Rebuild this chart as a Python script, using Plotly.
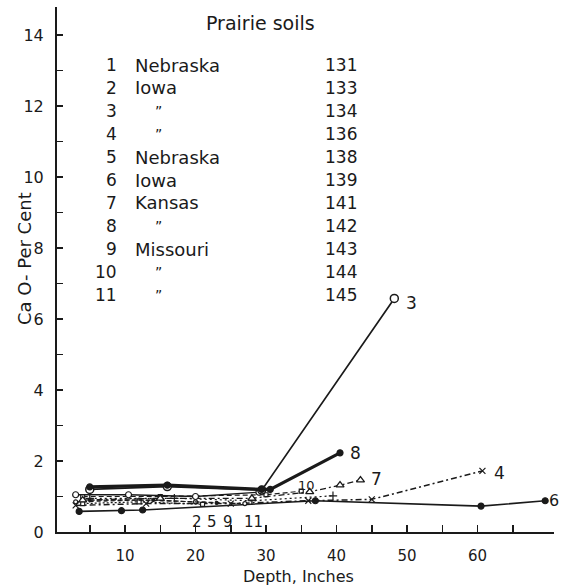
import plotly.graph_objects as go

# ---------------- data ----------------
legend_idx = ["1", "2", "3", "4", "5", "6", "7", "8", "9", "10", "11"]
legend_state = ["Nebraska", "Iowa", "\u201d", "\u201d", "Nebraska", "Iowa", "Kansas", "\u201d", "Missouri", "\u201d", "\u201d"]
legend_soil = ["131", "133", "134", "136", "138", "139", "141", "142", "143", "144", "145"]

s1_x = [3, 10.5, 20, 29];        s1_y = [1.05, 1.05, 1.0, 1.12]
s2_x = [3, 12, 20, 27];          s2_y = [0.85, 0.9, 0.85, 0.8]
s3_x = [5, 16, 29.4, 48.2];      s3_y = [1.2, 1.28, 1.18, 6.58]
s4_x = [3, 13, 25, 36, 45, 60.7]; s4_y = [0.75, 0.8, 0.8, 0.88, 0.92, 1.72]
s5_x = [4, 12, 21];              s5_y = [0.8, 0.85, 0.78]
s6_x = [3.5, 9.5, 12.5, 37, 60.5, 69.6]; s6_y = [0.58, 0.6, 0.62, 0.88, 0.73, 0.88]
s7_x = [4, 15, 28, 36.2, 40.5, 43.4]; s7_y = [0.9, 0.95, 0.95, 1.13, 1.32, 1.46]
s8_x = [5, 16, 29.4, 30.6, 40.5]; s8_y = [1.27, 1.32, 1.2, 1.2, 2.23]
s9_x = [5, 14, 23];              s9_y = [0.9, 0.9, 0.82]
s10_x = [4, 15, 30, 35];         s10_y = [1.0, 1.0, 1.05, 1.15]
s11_x = [5, 17, 28, 39.5];       s11_y = [0.95, 0.95, 0.88, 1.02]

curve_labels = ["3", "8", "7", "4", "6", "10"]
curve_label_x = [49.6, 41.6, 44.6, 62.0, 69.9, 34.3]
curve_label_y = [6.45, 2.22, 1.5, 1.65, 0.88, 1.3]

bottom_labels = ["2", "5", "9", "11"]
bottom_label_x = [20.2, 22.4, 24.6, 28.2]
bottom_label_y = [0.28, 0.28, 0.28, 0.28]

x_ticks = [5, 10, 15, 20, 25, 30, 35, 40, 45, 50, 55, 60, 65]
x_ticktext = ["", "10", "", "20", "", "30", "", "40", "", "50", "", "60", ""]
y_ticks = list(range(0, 15))
y_ticktext = [str(v) if v % 2 == 0 else "" for v in y_ticks]

# ---------------- layout geometry ----------------
W, H = 562, 588
L, R, T, B = 57, 8, 7, 56
PW, PH = W - L - R, H - T - B

def px(xp):
    return (xp - L) / PW

def py(yp):
    return (H - B - yp) / PH

FONT = "DejaVu Sans"
INK = "#1a1a1a"

fig = go.Figure()

def add(x, y, dash="solid", width=1.5, symbol="circle", msize=5, mcolor=INK, mline=1.2):
    fig.add_trace(go.Scatter(
        x=x, y=y, mode="lines+markers",
        line=dict(color=INK, width=width, dash=dash),
        marker=dict(symbol=symbol, size=msize, color=mcolor, line=dict(color=INK, width=mline)),
        cliponaxis=False, showlegend=False, hoverinfo="skip"))

add(s6_x, s6_y, "solid", 1.6, "circle", 6, INK)
add(s4_x, s4_y, "6px,3px,2px,3px", 1.5, "x-thin", 6, INK)
add(s2_x, s2_y, "4px,3px", 1.2, "circle", 4, "white")
add(s5_x, s5_y, "2px,2px", 1.2, "square", 4, "white")
add(s9_x, s9_y, "5px,2px", 1.2, "circle", 3, INK)
add(s11_x, s11_y, "2px,3px", 1.2, "cross-thin", 6, INK)
add(s10_x, s10_y, "5px,3px", 1.2, "square", 4, "white")
add(s7_x, s7_y, "6px,3px,2px,3px", 1.3, "triangle-up", 7, "white", 1.3)
add(s1_x, s1_y, "solid", 1.3, "circle", 6, "white")
add(s3_x, s3_y, "solid", 1.7, "circle", 8, "white", 1.5)
add(s8_x, s8_y, "solid", 3.2, "circle", 6, INK)

ann = []
for t, x, y in zip(curve_labels, curve_label_x, curve_label_y):
    ann.append(dict(x=x, y=y, xref="x", yref="y", text=t, showarrow=False,
                    xanchor="left", yanchor="middle",
                    font=dict(family=FONT, size=13 if t == "10" else (16 if t == "6" else 17), color=INK)))
for t, x, y in zip(bottom_labels, bottom_label_x, bottom_label_y):
    ann.append(dict(x=x, y=y, xref="x", yref="y", text=t, showarrow=False,
                    xanchor="center", yanchor="middle",
                    font=dict(family=FONT, size=15, color=INK)))

# legend table
row_y0, row_dy = 65, 23
for i, (a, b, c) in enumerate(zip(legend_idx, legend_state, legend_soil)):
    yy = py(row_y0 + i * row_dy)
    ann.append(dict(x=px(119), y=yy, xref="paper", yref="paper", text=a, showarrow=False,
                    xanchor="right", yanchor="middle", font=dict(family=FONT, size=17, color=INK)))
    if b == "\u201d":
        ann.append(dict(x=px(158), y=yy, xref="paper", yref="paper", text=b, showarrow=False,
                        xanchor="center", yanchor="middle", font=dict(family=FONT, size=14, color=INK)))
    else:
        ann.append(dict(x=px(133), y=yy, xref="paper", yref="paper", text=b, showarrow=False,
                        xanchor="left", yanchor="middle", font=dict(family=FONT, size=18, color=INK)))
    ann.append(dict(x=px(341), y=yy, xref="paper", yref="paper", text=c, showarrow=False,
                    xanchor="center", yanchor="middle", font=dict(family=FONT, size=17, color=INK)))

ann.append(dict(x=px(260), y=py(23), xref="paper", yref="paper", text="Prairie soils", showarrow=False,
                xanchor="center", yanchor="middle", font=dict(family=FONT, size=19, color=INK)))
ann.append(dict(x=px(298), y=py(576), xref="paper", yref="paper", text="Depth, Inches", showarrow=False,
                xanchor="center", yanchor="middle", font=dict(family=FONT, size=16, color=INK)))
ann.append(dict(x=px(24), y=py(259), xref="paper", yref="paper", text="Ca O- Per Cent", showarrow=False,
                textangle=-90, xanchor="center", yanchor="middle", font=dict(family=FONT, size=18, color=INK)))

x0 = (L - 54.5) / 7.05
x1 = (W - R - 54.5) / 7.05
y1 = PH / 35.5

fig.update_layout(
    width=W, height=H,
    margin=dict(l=L, r=R, t=T, b=B),
    paper_bgcolor="white", plot_bgcolor="white",
    annotations=ann,
    xaxis=dict(range=[x0, x1], showgrid=False, zeroline=False, showline=True,
               linecolor=INK, linewidth=2, ticks="inside", ticklen=7, tickwidth=1.5,
               tickcolor=INK, tickvals=x_ticks, ticktext=x_ticktext, ticklabelstandoff=9,
               tickfont=dict(family=FONT, size=15, color=INK)),
    yaxis=dict(range=[0, y1], showgrid=False, zeroline=False, showline=True,
               linecolor=INK, linewidth=2, ticks="inside", ticklen=6, tickwidth=1.5,
               tickcolor=INK, tickvals=y_ticks, ticktext=y_ticktext, ticklabelstandoff=8,
               tickfont=dict(family=FONT, size=16, color=INK)),
)

fig.write_html("out.html", config={"displayModeBar": False, "staticPlot": True},
               post_script="document.body.style.margin='0';document.body.style.padding='0';")
